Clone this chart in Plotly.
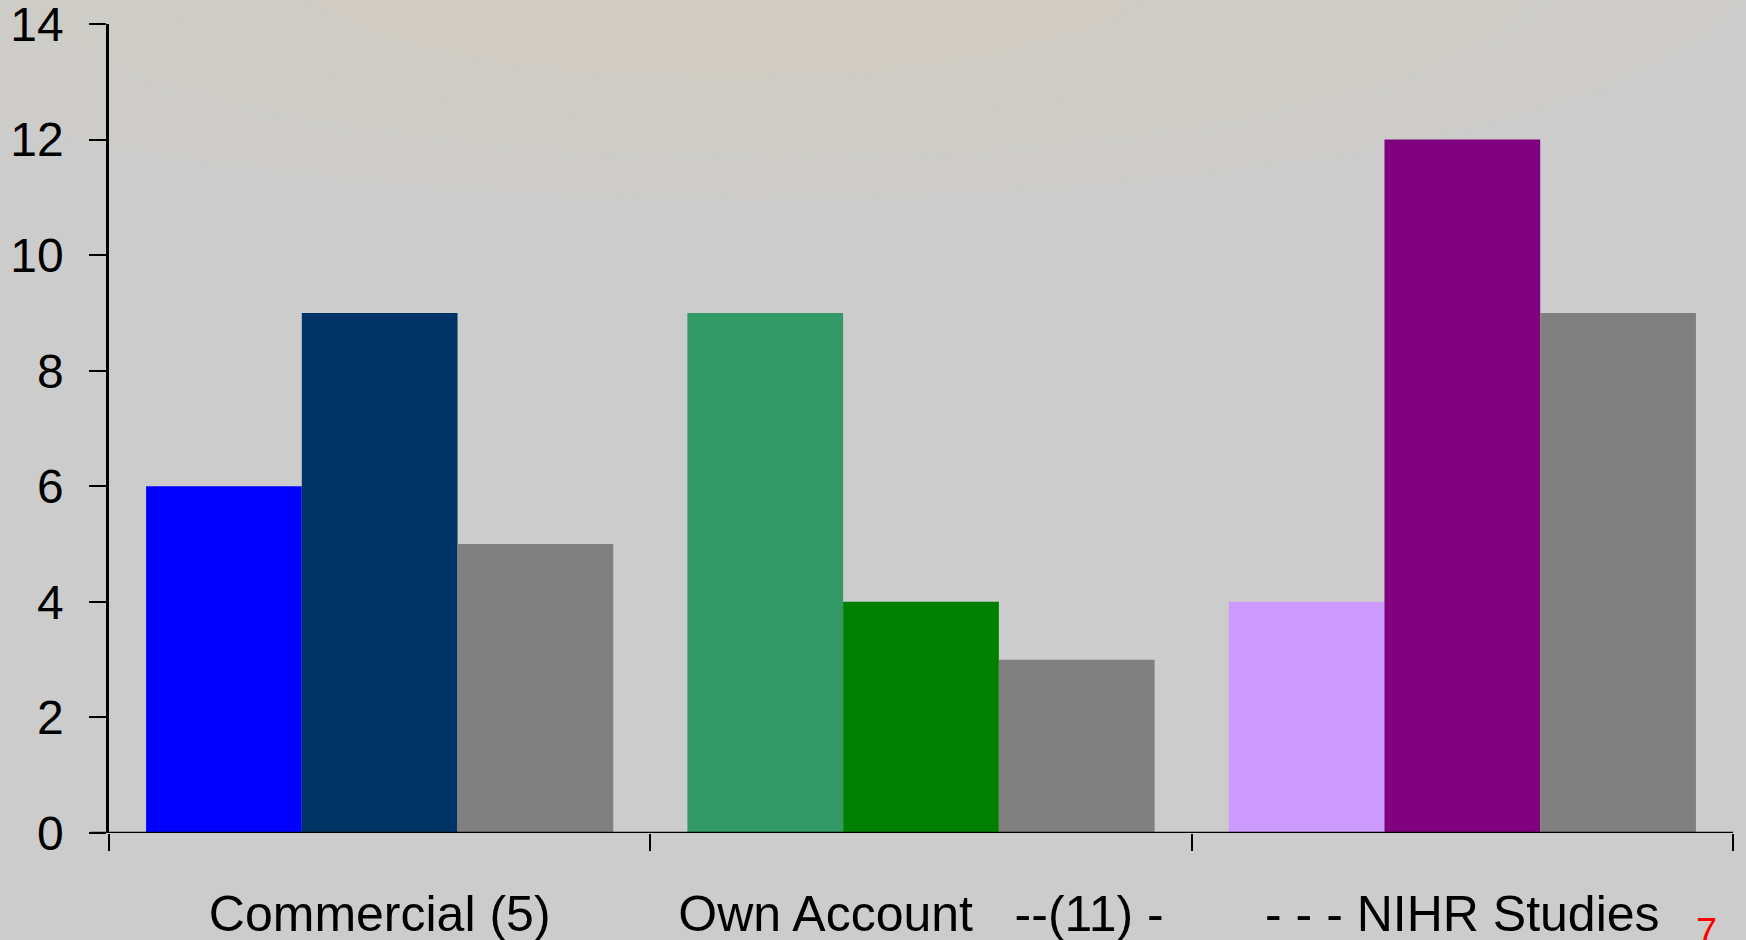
import plotly.graph_objects as go

categories = ["Commercial (5)", "Own Account&nbsp;&nbsp;&nbsp;--(11) -", "- - - NIHR Studies"]
series_1 = [6, 9, 4]
series_2 = [9, 4, 12]
series_3 = [5, 3, 9]
colors_1 = ["#0000FF", "#339966", "#CC99FF"]
colors_2 = ["#003366", "#008000", "#800080"]
colors_3 = ["#808080", "#808080", "#808080"]
y_ticks = [0, 2, 4, 6, 8, 10, 12, 14]
slide_number = "7"

W, H = 1746, 940
L, R, T, B = 109, 13, 24, 107
pw = W - L - R
ph = H - T - B


def px_x(p):
    return (p - L) / pw


def px_y(p):
    return (H - B - p) / ph


fig = go.Figure()
for vals, cols in [(series_1, colors_1), (series_2, colors_2), (series_3, colors_3)]:
    fig.add_trace(go.Bar(x=categories, y=vals, marker=dict(color=cols, line=dict(width=0)),
                         showlegend=False))

shapes = []
# soft beige tint at the top of the background
for (x0, x1, y0, y1) in [(-250, 1750, -260, 200), (0, 1550, -220, 160), (150, 1350, -170, 120),
                         (300, 1150, -120, 80)]:
    shapes.append(dict(type="circle", xref="paper", yref="paper", layer="below",
                       x0=px_x(x0), x1=px_x(x1), y0=px_y(y1), y1=px_y(y0),
                       fillcolor="rgba(216,206,184,0.13)", line=dict(width=0)))
# x axis line extending to the left tick start
shapes.append(dict(type="line", xref="paper", yref="y", x0=px_x(91), x1=1, y0=0, y1=0,
                   line=dict(color="black", width=2.5), layer="above"))

fig.update_layout(
    width=W, height=H,
    margin=dict(l=L, r=R, t=T, b=B, pad=0, autoexpand=False),
    paper_bgcolor="#CCCCCC", plot_bgcolor="rgba(0,0,0,0)",
    barmode="group", bargap=0.137, bargroupgap=0,
    font=dict(family="Liberation Sans, Arial, sans-serif", color="black"),
    shapes=shapes,
    xaxis=dict(type="category", showgrid=False, zeroline=False, showline=False,
               ticks="outside", tickson="boundaries", ticklen=17, tickwidth=2, tickcolor="black",
               tickfont=dict(size=50), ticklabelstandoff=47, range=[-0.5, 2.5],
               automargin=False, ticklabeloverflow="allow"),
    yaxis=dict(range=[0, 14], tickvals=y_ticks, showgrid=False, zeroline=False,
               showline=True, linecolor="black", linewidth=2.5,
               ticks="outside", ticklen=17, tickwidth=2, tickcolor="black",
               tickfont=dict(size=48), ticklabelstandoff=16,
               automargin=False, ticklabeloverflow="allow"),
    annotations=[dict(text=slide_number, xref="paper", yref="paper", x=px_x(1706), y=px_y(909),
                      xanchor="center", yanchor="top", showarrow=False,
                      font=dict(size=38, color="red"))],
)

fig.write_html("out.html", config={"displayModeBar": False},
               post_script="document.body.style.margin='0';document.body.style.overflow='hidden';")
